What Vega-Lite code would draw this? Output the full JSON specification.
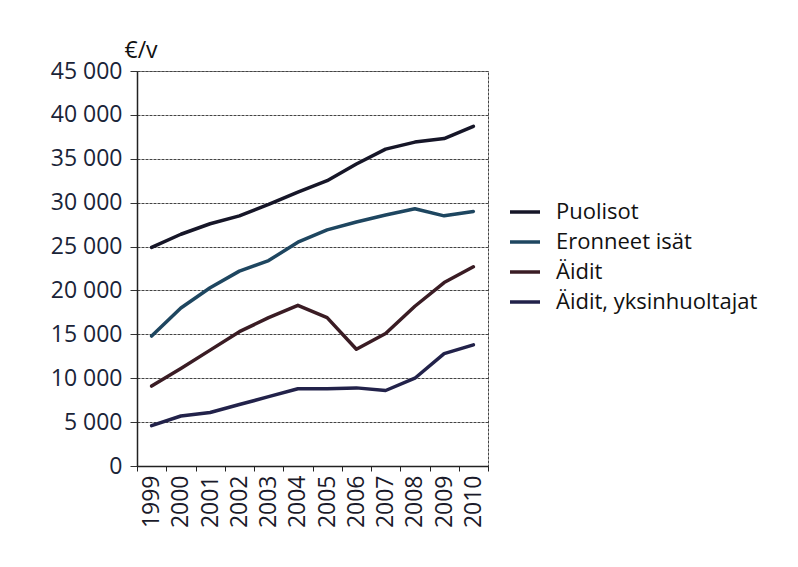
{
  "$schema": "https://vega.github.io/schema/vega-lite/v6.json",
  "autosize": "none",
  "width": 351,
  "height": 395,
  "padding": {"left": 137, "top": 71, "right": 310, "bottom": 101},
  "background": "white",
  "data": {
    "values": [
      {"vuosi": "1999", "ryhma": "Puolisot", "arvo": 24900},
      {"vuosi": "2000", "ryhma": "Puolisot", "arvo": 26400},
      {"vuosi": "2001", "ryhma": "Puolisot", "arvo": 27600},
      {"vuosi": "2002", "ryhma": "Puolisot", "arvo": 28500},
      {"vuosi": "2003", "ryhma": "Puolisot", "arvo": 29800},
      {"vuosi": "2004", "ryhma": "Puolisot", "arvo": 31200},
      {"vuosi": "2005", "ryhma": "Puolisot", "arvo": 32500},
      {"vuosi": "2006", "ryhma": "Puolisot", "arvo": 34400},
      {"vuosi": "2007", "ryhma": "Puolisot", "arvo": 36100},
      {"vuosi": "2008", "ryhma": "Puolisot", "arvo": 36900},
      {"vuosi": "2009", "ryhma": "Puolisot", "arvo": 37300},
      {"vuosi": "2010", "ryhma": "Puolisot", "arvo": 38700},
      {"vuosi": "1999", "ryhma": "Eronneet isät", "arvo": 14800},
      {"vuosi": "2000", "ryhma": "Eronneet isät", "arvo": 18000},
      {"vuosi": "2001", "ryhma": "Eronneet isät", "arvo": 20300},
      {"vuosi": "2002", "ryhma": "Eronneet isät", "arvo": 22200},
      {"vuosi": "2003", "ryhma": "Eronneet isät", "arvo": 23400},
      {"vuosi": "2004", "ryhma": "Eronneet isät", "arvo": 25500},
      {"vuosi": "2005", "ryhma": "Eronneet isät", "arvo": 26900},
      {"vuosi": "2006", "ryhma": "Eronneet isät", "arvo": 27800},
      {"vuosi": "2007", "ryhma": "Eronneet isät", "arvo": 28600},
      {"vuosi": "2008", "ryhma": "Eronneet isät", "arvo": 29300},
      {"vuosi": "2009", "ryhma": "Eronneet isät", "arvo": 28500},
      {"vuosi": "2010", "ryhma": "Eronneet isät", "arvo": 29000},
      {"vuosi": "1999", "ryhma": "Äidit", "arvo": 9100},
      {"vuosi": "2000", "ryhma": "Äidit", "arvo": 11100},
      {"vuosi": "2001", "ryhma": "Äidit", "arvo": 13200},
      {"vuosi": "2002", "ryhma": "Äidit", "arvo": 15300},
      {"vuosi": "2003", "ryhma": "Äidit", "arvo": 16900},
      {"vuosi": "2004", "ryhma": "Äidit", "arvo": 18300},
      {"vuosi": "2005", "ryhma": "Äidit", "arvo": 16900},
      {"vuosi": "2006", "ryhma": "Äidit", "arvo": 13300},
      {"vuosi": "2007", "ryhma": "Äidit", "arvo": 15100},
      {"vuosi": "2008", "ryhma": "Äidit", "arvo": 18200},
      {"vuosi": "2009", "ryhma": "Äidit", "arvo": 20900},
      {"vuosi": "2010", "ryhma": "Äidit", "arvo": 22700},
      {"vuosi": "1999", "ryhma": "Äidit, yksinhuoltajat", "arvo": 4600},
      {"vuosi": "2000", "ryhma": "Äidit, yksinhuoltajat", "arvo": 5700},
      {"vuosi": "2001", "ryhma": "Äidit, yksinhuoltajat", "arvo": 6100},
      {"vuosi": "2002", "ryhma": "Äidit, yksinhuoltajat", "arvo": 7000},
      {"vuosi": "2003", "ryhma": "Äidit, yksinhuoltajat", "arvo": 7900},
      {"vuosi": "2004", "ryhma": "Äidit, yksinhuoltajat", "arvo": 8800},
      {"vuosi": "2005", "ryhma": "Äidit, yksinhuoltajat", "arvo": 8800},
      {"vuosi": "2006", "ryhma": "Äidit, yksinhuoltajat", "arvo": 8900},
      {"vuosi": "2007", "ryhma": "Äidit, yksinhuoltajat", "arvo": 8600},
      {"vuosi": "2008", "ryhma": "Äidit, yksinhuoltajat", "arvo": 10000},
      {"vuosi": "2009", "ryhma": "Äidit, yksinhuoltajat", "arvo": 12800},
      {"vuosi": "2010", "ryhma": "Äidit, yksinhuoltajat", "arvo": 13800}
    ]
  },
  "mark": {"type": "line", "strokeWidth": 3.5, "strokeJoin": "round", "strokeCap": "round"},
  "encoding": {
    "x": {
      "field": "vuosi",
      "type": "ordinal",
      "scale": {"type": "band", "paddingInner": 0, "paddingOuter": 0},
      "axis": {
        "title": null,
        "labelAngle": -90,
        "labelAlign": "right",
        "labelBaseline": "middle",
        "labelFontSize": 23,
        "labelFont": "Open Sans",
        "labelColor": "#1a1a2a",
        "labelPadding": 4,
        "tickBand": "extent",
        "tickSize": 5,
        "tickColor": "#222",
        "domainColor": "#222",
        "domainWidth": 1.5,
        "grid": false
      }
    },
    "y": {
      "field": "arvo",
      "type": "quantitative",
      "scale": {"domain": [0, 45000], "nice": false},
      "axis": {
        "values": [0, 5000, 10000, 15000, 20000, 25000, 30000, 35000, 40000, 45000],
        "labelExpr": "replace(format(datum.value, ',d'), ',', ' ')",
        "labelFontSize": 23,
        "labelFont": "Open Sans",
        "labelColor": "#1a2438",
        "labelPadding": 8,
        "tickSize": 7,
        "tickColor": "#333",
        "domainColor": "#222",
        "domainWidth": 1.5,
        "grid": true,
        "gridColor": "#444",
        "gridDash": [3, 1],
        "gridWidth": 1,
        "title": "€/v",
        "titleAngle": 0,
        "titleAlign": "left",
        "titleBaseline": "alphabetic",
        "titleX": -13,
        "titleY": -14,
        "titleFontSize": 23,
        "titleFont": "Open Sans",
        "titleFontWeight": "normal",
        "titleColor": "#111"
      }
    },
    "color": {
      "field": "ryhma",
      "type": "nominal",
      "sort": ["Puolisot", "Eronneet isät", "Äidit", "Äidit, yksinhuoltajat"],
      "scale": {
        "domain": ["Puolisot", "Eronneet isät", "Äidit", "Äidit, yksinhuoltajat"],
        "range": ["#161628", "#1e4660", "#3a1c24", "#22224a"]
      },
      "legend": {
        "title": null,
        "orient": "none",
        "legendX": 371,
        "legendY": 124,
        "symbolType": "stroke",
        "symbolSize": 900,
        "symbolStrokeWidth": 3.5,
        "labelFontSize": 22,
        "labelFont": "Open Sans",
        "labelColor": "#111",
        "labelOffset": 14,
        "labelLimit": 400,
        "rowPadding": 2
      }
    }
  },
  "config": {
    "view": {"stroke": "#444", "strokeDash": [3, 1], "strokeWidth": 1}
  }
}
